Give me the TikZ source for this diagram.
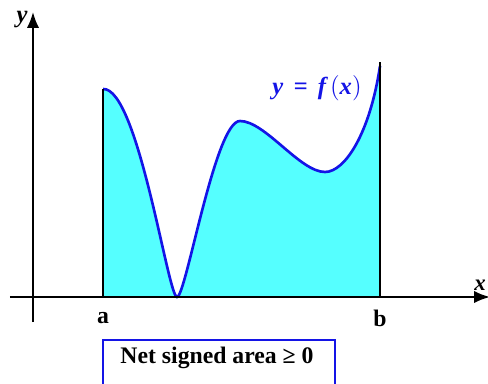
\documentclass[tikz,border=0pt]{standalone}
\usepackage{fontspec}
\setmainfont{Liberation Serif}
\usepackage{tikz}
\usetikzlibrary{arrows.meta,positioning}

\definecolor{areacyan}{RGB}{85,255,255}
\definecolor{curveblue}{RGB}{20,20,230}

\tikzset{
  axis/.style={line width=1.2pt, -{Latex[length=9pt,width=7pt]}},
  bound/.style={line width=1.1pt, black},
  curve/.style={line width=1.5pt, curveblue},
  lbl/.style={font=\bfseries\fontsize{13.5}{15}\selectfont},
  infobox/.style={draw=curveblue, line width=1.2pt, minimum width=232*0.02cm, minimum height=60*0.02cm, anchor=north west, inner sep=0pt}
}

\begin{document}
\begin{tikzpicture}[x=0.02cm,y=0.02cm]
        \clip (0,0) rectangle (488,383);
        \useasboundingbox (0,0) rectangle (488,383);

        % Axis ends and the limits a, b
        \coordinate (xstart) at (10,86);
        \coordinate (xend) at (490,86);
        \coordinate (ystart) at (33,61);
        \coordinate (yend) at (33,371);
        \coordinate (a) at (103,86);
        \coordinate (atop) at (103,294);
        \coordinate (b) at (380,86);
        \coordinate (btop) at (380,321);

        % Shaded area under the curve
        \fill[areacyan] (a) -- (atop)
            .. controls (138,296) and (168,86) .. (177,86)
            .. controls (186,86) and (215,262) .. (240,262)
            .. controls (265,262) and (300,211) .. (325,211)
            .. controls (345,211) and (370,250) .. (380,317)
            -- (b) -- cycle;

        % The function
        \draw[curve] (atop)
            .. controls (138,296) and (168,86) .. (177,86)
            .. controls (186,86) and (215,262) .. (240,262)
            .. controls (265,262) and (300,211) .. (325,211)
            .. controls (345,211) and (370,250) .. (380,317);

        % Bounds
        \draw[bound] (a) -- (atop);
        \draw[bound] (b) -- (btop);

        % Axes
        \draw[axis] (xstart) -- (xend);
        \draw[axis] (ystart) -- (yend);
        \node[lbl, font=\bfseries\itshape\fontsize{14}{16}\selectfont] (ylabel) at (22,363) {y};
        \node[lbl, font=\bfseries\itshape\fontsize{13}{15}\selectfont, anchor=south east, inner sep=1pt] (xlabel) at (488,90) {x};

        % Labels
        \node[lbl] (alabel) at (103,65) {a};
        \node[lbl] (blabel) at (380,65) {b};
        \node[curveblue, font=\bfseries\itshape\fontsize{14}{16}\selectfont] (flabel) at (317,295) {y \,=\, f\,$\Bigl($x$\Bigr)$};

        % Result box
        \node[infobox] (resbox) at (102,44) {};
        \node[lbl] (restext) at (217,25) {Net signed area ≥ 0};
    \end{tikzpicture}
\end{document}
